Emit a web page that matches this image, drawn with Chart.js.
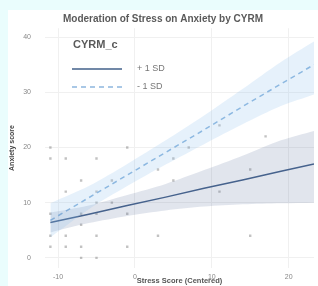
<!DOCTYPE html>
<html>
<head>
<meta charset="utf-8">
<script src="https://cdn.jsdelivr.net/npm/chart.js@4"></script>
<style>
  html, body { margin: 0; padding: 0; background: #eafdfd; width: 318px; height: 286px; overflow: hidden; }
  #c { position: absolute; left: 8px; top: 10px; background: #ffffff; }
</style>
</head>
<body>
<canvas id="c" width="310" height="276"></canvas>
<script>
// ---- data ----
const chartTitle = "Moderation of Stress on Anxiety by CYRM";
const xTitle = "Stress Score (Centered)";
const yTitle = "Anxiety score";
const legendTitle = "CYRM_c";
const seriesNames = ["+ 1 SD", "- 1 SD"];

const xTicks = [-10, 0, 10, 20];
const yTicks = [0, 10, 20, 30, 40];

// x positions where fitted lines / bands were read
const xGrid = [-11, -6, -1, 4, 9, 14, 19, 23.3];
// +1 SD (solid)
const highFit   = [6.4, 7.9, 9.5, 11.0, 12.6, 14.1, 15.7, 17.0];
const highLower = [4.6, 6.3, 7.6, 8.6, 9.3, 9.7, 9.9, 10.0];
const highUpper = [8.2, 9.5, 11.4, 13.4, 15.9, 18.5, 21.3, 23.0];
// -1 SD (dashed)
const lowFit   = [6.8, 10.9, 15.0, 19.1, 23.2, 27.4, 31.5, 35.0];
const lowLower = [3.7, 8.8, 13.0, 16.9, 20.6, 24.2, 27.5, 29.6];
const lowUpper = [9.9, 13.0, 17.0, 21.3, 25.8, 30.6, 35.5, 39.2];

// observed points
const obsX = [-11, -11, -9, -5, -1, -7, -3, -9, -5, -5, -3, -11, -7, -5, -1, -7,
              -11, -9, -5, 3, 15, -11, -9, -7, -1, -7, -5,
              5, 7, 11, 17, 3, 5, 15, 11];
const obsY = [20, 18, 18, 18, 20, 14, 14, 12, 12, 10, 10, 8, 8, 8, 8, 6,
              4, 4, 4, 4, 4, 2, 2, 2, 2, 0, 0,
              18, 20, 24, 22, 16, 14, 16, 12];

// ---- build ----
const pts = (xs, ys) => xs.map((x, i) => ({ x: x, y: ys[i] }));
const FONT = "'Liberation Sans', Arial, sans-serif";
const solidColor = "#42608a";
const dashColor = "#8db7de";

const legendPlugin = {
  id: "insideLegend",
  afterDraw(chart) {
    const ctx = chart.ctx;
    ctx.save();
    ctx.fillStyle = "#5a5a5a";
    ctx.font = "bold 11px " + FONT;
    ctx.textBaseline = "middle";
    ctx.fillText(legendTitle, 65, 35);
    ctx.lineWidth = 1.5;
    ctx.strokeStyle = solidColor;
    ctx.setLineDash([]);
    ctx.beginPath(); ctx.moveTo(64, 59); ctx.lineTo(114, 59); ctx.stroke();
    ctx.strokeStyle = dashColor;
    ctx.setLineDash([5, 4]);
    ctx.beginPath(); ctx.moveTo(64, 77); ctx.lineTo(114, 77); ctx.stroke();
    ctx.setLineDash([]);
    ctx.font = "9px " + FONT;
    ctx.fillStyle = "#777";
    ctx.fillText(seriesNames[0], 129, 59);
    ctx.fillText(seriesNames[1], 129, 77);
    ctx.restore();
  }
};

new Chart(document.getElementById("c"), {
  type: "line",
  data: {
    datasets: [
      { label: "lowUpper", data: pts(xGrid, lowUpper), borderWidth: 0, pointRadius: 0,
        backgroundColor: "rgba(140,190,235,0.22)", fill: "+1", tension: 0.3 },
      { label: "lowLower", data: pts(xGrid, lowLower), borderWidth: 0, pointRadius: 0,
        backgroundColor: "rgba(0,0,0,0)", fill: false, tension: 0.3 },
      { label: "highUpper", data: pts(xGrid, highUpper), borderWidth: 0, pointRadius: 0,
        backgroundColor: "rgba(90,112,155,0.18)", fill: "+1", tension: 0.3 },
      { label: "highLower", data: pts(xGrid, highLower), borderWidth: 0, pointRadius: 0,
        backgroundColor: "rgba(0,0,0,0)", fill: false, tension: 0.3 },
      { label: seriesNames[0], data: pts(xGrid, highFit), borderColor: solidColor, borderWidth: 1.5,
        pointRadius: 0, fill: false },
      { label: seriesNames[1], data: pts(xGrid, lowFit), borderColor: dashColor, borderWidth: 1.5,
        borderDash: [5, 4], pointRadius: 0, fill: false },
      { type: "scatter", label: "obs", data: pts(obsX, obsY), pointStyle: "rect",
        pointRadius: 1.7, backgroundColor: "rgba(120,120,120,0.45)", borderWidth: 0 }
    ]
  },
  options: {
    responsive: false,
    devicePixelRatio: 1,
    animation: false,
    layout: { padding: { left: 0, right: 0, top: 0, bottom: 0 } },
    plugins: {
      legend: { display: false },
      tooltip: { enabled: false },
      title: {
        display: true, text: chartTitle, color: "#5a5a5a",
        font: { family: FONT, size: 10, weight: "bold" },
        padding: { top: 0, bottom: 3 }
      }
    },
    scales: {
      x: {
        type: "linear", min: -11.7, max: 23.3,
        afterBuildTicks: a => { a.ticks = xTicks.map(v => ({ value: v })); },
        afterFit: s => { s.height = 18; },
        grid: { color: "#f0f0f0", drawTicks: false },
        border: { display: false },
        ticks: { color: "#888", font: { family: FONT, size: 7 }, padding: 5 },
        title: { display: true, text: xTitle, color: "#555", padding: 0,
                 font: { family: FONT, size: 7.5, weight: "bold" } }
      },
      y: {
        type: "linear", min: -1.8, max: 41.6,
        afterBuildTicks: a => { a.ticks = yTicks.map(v => ({ value: v })); },
        afterFit: s => { s.width = 37; },
        grid: { color: "#f0f0f0", drawTicks: false },
        border: { display: false },
        ticks: { color: "#888", font: { family: FONT, size: 7 }, padding: 14 },
        title: { display: true, text: yTitle, color: "#444", padding: 0,
                 font: { family: FONT, size: 7, weight: "bold" } }
      }
    }
  },
  plugins: [legendPlugin]
});
</script>
</body>
</html>
